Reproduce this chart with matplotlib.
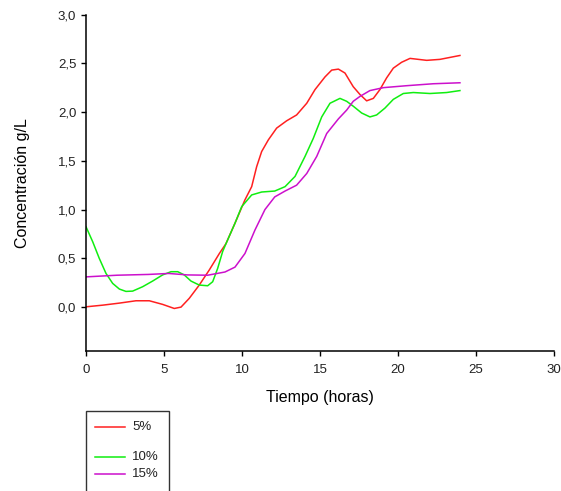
import matplotlib
matplotlib.use("Agg")
import matplotlib.pyplot as plt
from matplotlib.lines import Line2D
from matplotlib.patches import Rectangle
from matplotlib.ticker import FuncFormatter

plt.rcParams['font.family'] = ['Liberation Sans', 'DejaVu Sans']

# Concentracion (g/L) vs tiempo (h) para cada dosis
t_5 = [0, 1.07, 2.14, 3.2, 4.06, 4.91, 5.66, 6.09, 6.62, 7.26, 7.9, 8.55, 8.97,
       9.55, 10.19, 10.62, 10.94, 11.26, 11.69, 12.22, 12.86, 13.5, 14.15, 14.68,
       15.32, 15.75, 16.18, 16.6, 17.13, 17.56, 17.99, 18.42, 18.84, 19.27, 19.7,
       20.23, 20.77, 21.84, 22.69, 23.33, 23.97]
c_5 = [0.003, 0.02, 0.041, 0.065, 0.065, 0.028, -0.014, 0.0, 0.09, 0.226, 0.38,
       0.55, 0.65, 0.86, 1.10, 1.235, 1.44, 1.595, 1.715, 1.835, 1.91, 1.97, 2.09,
       2.23, 2.36, 2.43, 2.44, 2.40, 2.26, 2.18, 2.115, 2.14, 2.23, 2.35, 2.45,
       2.51, 2.55, 2.53, 2.54, 2.56, 2.58]

t_10 = [0, 0.43, 0.85, 1.28, 1.71, 2.14, 2.56, 2.99, 3.63, 4.27, 4.91, 5.45, 5.88,
        6.3, 6.73, 7.26, 7.8, 8.12, 8.44, 8.76, 9.0, 9.55, 9.98, 10.62, 11.26,
        12.1, 12.76, 13.4, 14.04, 14.57, 15.11, 15.64, 16.28, 16.71, 17.13, 17.67,
        18.2, 18.63, 19.16, 19.7, 20.34, 20.98, 22.05, 23.12, 23.97]
c_10 = [0.824, 0.67, 0.50, 0.346, 0.243, 0.185, 0.161, 0.164, 0.209, 0.267, 0.33,
        0.363, 0.363, 0.33, 0.267, 0.226, 0.219, 0.26, 0.397, 0.57, 0.66, 0.86,
        1.03, 1.15, 1.18, 1.19, 1.235, 1.34, 1.545, 1.73, 1.95, 2.09, 2.14, 2.11,
        2.06, 1.99, 1.95, 1.97, 2.04, 2.13, 2.19, 2.20, 2.19, 2.20, 2.22]

t_15 = [0, 2.0, 4.0, 5.3, 6.5, 7.8, 8.91, 9.55, 10.19, 10.83, 11.47, 12.1, 12.76,
        13.5, 14.15, 14.79, 15.43, 16.18, 16.71, 17.13, 17.56, 18.2, 19.06, 20.55,
        22.26, 23.97]
c_15 = [0.31, 0.327, 0.335, 0.345, 0.33, 0.327, 0.36, 0.41, 0.55, 0.79, 1.0, 1.13,
        1.19, 1.25, 1.37, 1.545, 1.78, 1.93, 2.02, 2.11, 2.16, 2.22, 2.25, 2.27,
        2.29, 2.30]

series_labels = ['5%', '10%', '15%']
series_colors = ['#ff2020', '#10ee10', '#cc10cc']

x_ticks = [0, 5, 10, 15, 20, 25, 30]
y_ticks = [0.0, 0.5, 1.0, 1.5, 2.0, 2.5, 3.0]

fig = plt.figure(figsize=(5.61, 4.91), dpi=100)
ax = fig.add_axes([86 / 561, 1 - 351 / 491, 468 / 561, 336.5 / 491])

for (t, c), col in zip([(t_5, c_5), (t_10, c_10), (t_15, c_15)], series_colors):
    ax.plot(t, c, color=col, lw=1.1, solid_joinstyle='round')

ax.set_xlim(0, 30)
ax.set_ylim(-0.45, 3.0)
ax.set_xticks(x_ticks)
ax.set_yticks(y_ticks)
ax.yaxis.set_major_formatter(FuncFormatter(lambda v, p: f"{v:.1f}".replace('.', ',')))

for s in ['top', 'right']:
    ax.spines[s].set_visible(False)
for s in ['left', 'bottom']:
    ax.spines[s].set_linewidth(1.1)

ax.tick_params(axis='both', direction='out', length=3.5, width=1, labelsize=9.5,
               labelcolor='#222222')
ax.tick_params(axis='x', pad=6)
ax.tick_params(axis='y', pad=3.5)

ax.set_xlabel('Tiempo (horas)', fontsize=11.5, labelpad=10)
ax.set_ylabel('Concentración g/L', fontsize=11.5, labelpad=20)

# Leyenda dibujada a mano en coordenadas de figura (px -> fracción)
W, H = 561, 491
fig.patches.append(Rectangle((86 / W, 1 - 500 / H), 83 / W, 89 / H,
                             transform=fig.transFigure, fill=False,
                             edgecolor='#333333', lw=1.0))
leg_y = [427, 457, 474]
for lab, col, yp in zip(series_labels, series_colors, leg_y):
    fig.add_artist(Line2D([95 / W, 125 / W], [1 - yp / H, 1 - yp / H],
                          transform=fig.transFigure, color=col, lw=1.1))
    fig.text(132 / W, 1 - yp / H, lab, fontsize=9.5, va='center', ha='left',
             color='#222222')

fig.savefig('out.png', dpi=100)
